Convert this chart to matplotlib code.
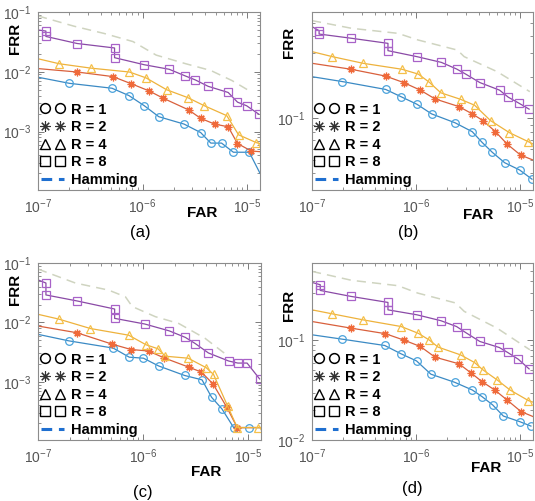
import numpy as np
import matplotlib
matplotlib.use('agg')
import matplotlib.pyplot as plt
from matplotlib.lines import Line2D
from matplotlib.legend_handler import HandlerLine2D

plt.rcParams['font.family'] = ['Liberation Sans', 'DejaVu Sans']
plt.rcParams['mathtext.default'] = 'regular'

# ---- panel (a) ----
a_r1_far = [1e-7, 2.0e-7, 5.1e-7, 7.4e-7, 1.04e-6, 1.43e-6, 2.5e-6, 3.6e-6, 4.5e-6, 5.7e-6, 7.4e-6, 1.05e-5, 1.33e-5]
a_r1_frr = [8.1e-3, 6.4e-3, 5.3e-3, 4.0e-3, 2.7e-3, 1.77e-3, 1.33e-3, 9.6e-4, 6.4e-4, 6.4e-4, 4.5e-4, 4.5e-4, 2.0e-4]
a_r2_far = [1e-7, 2.37e-7, 5.2e-7, 7.8e-7, 1.15e-6, 1.58e-6, 2.76e-6, 3.6e-6, 4.9e-6, 6.6e-6, 8.1e-6, 1.1e-5, 1.33e-5]
a_r2_frr = [1.13e-2, 9.9e-3, 8.3e-3, 6.3e-3, 4.8e-3, 3.6e-3, 2.3e-3, 1.66e-3, 1.33e-3, 1.2e-3, 6.3e-4, 4.7e-4, 4.6e-4]
a_r4_far = [1e-7, 1.6e-7, 3.2e-7, 7.5e-7, 1.08e-6, 1.7e-6, 2.7e-6, 3.9e-6, 6.4e-6, 8.3e-6, 1.23e-5, 1.33e-5]
a_r4_frr = [1.65e-2, 1.36e-2, 1.15e-2, 9.9e-3, 7.9e-3, 5.0e-3, 3.7e-3, 2.7e-3, 1.84e-3, 8.8e-4, 6.5e-4, 6.3e-4]
a_r8_far = [1e-7, 1.19e-7, 1.19e-7, 2.37e-7, 5.4e-7, 5.4e-7, 1.04e-6, 1.8e-6, 2.57e-6, 3.2e-6, 4.25e-6, 6.6e-6, 8.1e-6, 9.9e-6, 1.29e-5]
a_r8_frr = [5.0e-2, 4.8e-2, 3.9e-2, 2.97e-2, 2.5e-2, 1.72e-2, 1.31e-2, 1.1e-2, 8.5e-3, 7.3e-3, 5.7e-3, 4.5e-3, 3.1e-3, 2.7e-3, 1.96e-3]
a_ham_far = [1e-7, 2.2e-7, 4.3e-7, 8.1e-7, 1.35e-6, 2.6e-6, 4.5e-6, 7.2e-6, 1.05e-5]
a_ham_frr = [8.6e-2, 5.8e-2, 4.37e-2, 3.2e-2, 1.9e-2, 1.36e-2, 1.05e-2, 7.1e-3, 4.8e-3]

# ---- panel (b) ----
b_r1_far = [1e-7, 1.96e-7, 5.1e-7, 7.2e-7, 1.02e-6, 1.41e-6, 2.37e-6, 3.47e-6, 4.3e-6, 5.4e-6, 7.1e-6, 9.9e-6, 1.3e-5]
b_r1_frr = [0.202, 0.186, 0.163, 0.144, 0.127, 0.108, 0.093, 0.080, 0.067, 0.0566, 0.0475, 0.042, 0.036]
b_r2_far = [1e-7, 2.37e-7, 5.1e-7, 7.6e-7, 1.1e-6, 1.52e-6, 2.59e-6, 3.47e-6, 4.4e-6, 5.8e-6, 7.5e-6, 1.01e-5, 1.33e-5]
b_r2_frr = [0.253, 0.229, 0.204, 0.183, 0.161, 0.139, 0.122, 0.108, 0.0964, 0.080, 0.065, 0.054, 0.0497]
b_r4_far = [1e-7, 1.57e-7, 3.1e-7, 7.3e-7, 1.05e-6, 1.34e-6, 1.73e-6, 2.68e-6, 3.65e-6, 5.2e-6, 7.9e-6, 1.2e-5, 1.33e-5]
b_r4_frr = [0.308, 0.283, 0.253, 0.229, 0.211, 0.184, 0.154, 0.138, 0.125, 0.0964, 0.0787, 0.0676, 0.065]
b_r8_far = [1e-7, 1.17e-7, 1.17e-7, 2.37e-7, 5.37e-7, 5.37e-7, 1.02e-6, 1.75e-6, 2.45e-6, 3.0e-6, 4.1e-6, 6.35e-6, 7.7e-6, 9.8e-6, 1.22e-5]
b_r8_frr = [0.469, 0.438, 0.414, 0.386, 0.354, 0.313, 0.283, 0.257, 0.230, 0.211, 0.183, 0.161, 0.143, 0.129, 0.117]
b_ham_far = [1e-7, 2.4e-7, 6.7e-7, 1.04e-6, 2.5e-6, 2.9e-6, 6.0e-6, 1.24e-5]
b_ham_frr = [0.519, 0.456, 0.419, 0.375, 0.316, 0.283, 0.22, 0.157]

# ---- panel (c) ----
c_r1_far = [1e-7, 1.96e-7, 5.2e-7, 7.4e-7, 1.01e-6, 1.41e-6, 2.49e-6, 3.65e-6, 4.5e-6, 5.65e-6, 7.3e-6, 1.03e-5, 1.33e-5]
c_r1_frr = [6.3e-3, 4.9e-3, 3.7e-3, 2.6e-3, 2.5e-3, 1.85e-3, 1.28e-3, 1.08e-3, 5.5e-4, 3.5e-4, 1.7e-4, 1.7e-4, 1.7e-4]
c_r2_far = [1e-7, 2.35e-7, 5.1e-7, 7.7e-7, 1.13e-6, 1.57e-6, 2.72e-6, 3.6e-6, 4.65e-6, 6.3e-6, 7.9e-6, 1.33e-5]
c_r2_frr = [8.7e-3, 6.7e-3, 4.3e-3, 3.5e-3, 3.3e-3, 2.55e-3, 1.77e-3, 1.46e-3, 9.2e-4, 3.7e-4, 1.7e-4, 1.7e-4]
c_r4_far = [1e-7, 1.57e-7, 3.15e-7, 7.3e-7, 1.07e-6, 1.39e-6, 1.63e-6, 2.69e-6, 4.0e-6, 4.7e-6, 6.4e-6, 7.9e-6, 1.25e-5, 1.33e-5]
c_r4_frr = [1.37e-2, 1.14e-2, 7.9e-3, 6.1e-3, 4.2e-3, 3.6e-3, 2.7e-3, 2.5e-3, 1.73e-3, 1.33e-3, 3.9e-4, 1.7e-4, 1.7e-4, 1.7e-4]
c_r8_far = [1e-7, 1.19e-7, 1.19e-7, 2.35e-7, 5.37e-7, 5.37e-7, 1.04e-6, 1.78e-6, 2.53e-6, 3.15e-6, 4.2e-6, 6.55e-6, 8.0e-6, 9.8e-6, 1.29e-5]
c_r8_frr = [5.2e-2, 4.6e-2, 2.9e-2, 2.3e-2, 1.68e-2, 1.17e-2, 9.4e-3, 7.2e-3, 5.6e-3, 4.4e-3, 3.06e-3, 2.24e-3, 2.07e-3, 2.07e-3, 1.12e-3]
c_ham_far = [1e-7, 2.27e-7, 4.7e-7, 6.8e-7, 7.9e-7, 1.31e-6, 2.19e-6, 3.9e-6, 6.5e-6]
c_ham_frr = [7.9e-2, 4.6e-2, 3.5e-2, 2.7e-2, 1.85e-2, 1.25e-2, 9.6e-3, 5.4e-3, 2.7e-3]

# ---- panel (d) ----
d_r1_far = [1e-7, 1.96e-7, 5.0e-7, 7.2e-7, 1.01e-6, 1.39e-6, 2.35e-6, 3.47e-6, 4.3e-6, 5.45e-6, 6.9e-6, 9.9e-6, 1.27e-5]
d_r1_frr = [0.114, 0.103, 0.089, 0.0733, 0.0623, 0.0458, 0.038, 0.0318, 0.0273, 0.0225, 0.0174, 0.0153, 0.0138]
d_r2_far = [1e-7, 2.37e-7, 5.07e-7, 7.6e-7, 1.1e-6, 1.52e-6, 2.59e-6, 3.4e-6, 4.3e-6, 5.7e-6, 7.5e-6, 1.02e-5, 1.33e-5]
d_r2_frr = [0.155, 0.133, 0.117, 0.101, 0.087, 0.068, 0.0582, 0.0469, 0.0386, 0.0318, 0.0252, 0.0193, 0.0172]
d_r4_far = [1e-7, 1.57e-7, 3.1e-7, 7.2e-7, 1.05e-6, 1.34e-6, 1.63e-6, 2.68e-6, 3.65e-6, 4.4e-6, 6.0e-6, 8.0e-6, 1.2e-5, 1.33e-5]
d_r4_frr = [0.203, 0.185, 0.161, 0.138, 0.118, 0.101, 0.0857, 0.0716, 0.06, 0.0506, 0.0402, 0.0318, 0.0249, 0.024]
d_r8_far = [1e-7, 1.2e-7, 1.2e-7, 2.37e-7, 5.37e-7, 5.37e-7, 1.02e-6, 1.73e-6, 2.45e-6, 3.0e-6, 4.1e-6, 6.3e-6, 7.6e-6, 9.6e-6, 1.22e-5]
d_r8_frr = [0.383, 0.363, 0.318, 0.277, 0.241, 0.203, 0.181, 0.158, 0.138, 0.120, 0.0977, 0.085, 0.0757, 0.0648, 0.0518]
d_ham_far = [1e-7, 2.4e-7, 6.7e-7, 1.04e-6, 2.4e-6, 2.9e-6, 6.0e-6, 1.24e-5]
d_ham_frr = [0.494, 0.402, 0.355, 0.299, 0.238, 0.196, 0.133, 0.0806]

legend_labels = ['R = 1', 'R = 2', 'R = 4', 'R = 8', 'Hamming']
captions = ['(a)', '(b)', '(c)', '(d)']

# line colour, marker colour, marker
styles = {
    'r1': ('#3b8ac4', '#4ba3dc', 'o'),
    'r2': ('#d9603c', '#f06a3a', (8, 2, 0)),
    'r4': ('#eeb23c', '#f5c04a', '^'),
    'r8': ('#8a4aa6', '#a862c8', 's'),
}
XMIN, XMAX = 1e-7, 1.33e-5

panels = [
    dict(series={'r1': (a_r1_far, a_r1_frr), 'r2': (a_r2_far, a_r2_frr), 'r4': (a_r4_far, a_r4_frr),
                 'r8': (a_r8_far, a_r8_frr)}, ham=(a_ham_far, a_ham_frr),
         ylim=(1.05e-4, 1e-1), yticks=[1e-3, 1e-2, 1e-1],
         rect=[38, 12, 260, 190], frr_y=0.85, far_xy=(0.74, -0.13), cap=(140, 232)),
    dict(series={'r1': (b_r1_far, b_r1_frr), 'r2': (b_r2_far, b_r2_frr), 'r4': (b_r4_far, b_r4_frr),
                 'r8': (b_r8_far, b_r8_frr)}, ham=(b_ham_far, b_ham_frr),
         ylim=(0.03, 0.6), yticks=[1e-1],
         rect=[312, 12, 533, 190], frr_y=0.83, far_xy=(0.75, -0.14), cap=(408, 232)),
    dict(series={'r1': (c_r1_far, c_r1_frr), 'r2': (c_r2_far, c_r2_frr), 'r4': (c_r4_far, c_r4_frr),
                 'r8': (c_r8_far, c_r8_frr)}, ham=(c_ham_far, c_ham_frr),
         ylim=(1.05e-4, 1e-1), yticks=[1e-3, 1e-2, 1e-1],
         rect=[38, 263, 261, 440], frr_y=0.85, far_xy=(0.755, -0.18), cap=(143, 492)),
    dict(series={'r1': (d_r1_far, d_r1_frr), 'r2': (d_r2_far, d_r2_frr), 'r4': (d_r4_far, d_r4_frr),
                 'r8': (d_r8_far, d_r8_frr)}, ham=(d_ham_far, d_ham_frr),
         ylim=(0.01, 0.6), yticks=[1e-2, 1e-1],
         rect=[312, 263, 533, 440], frr_y=0.76, far_xy=(0.79, -0.16), cap=(412, 488)),
]

W, H = 535, 501
fig = plt.figure(figsize=(W / 100, H / 100), dpi=100)

for i, p in enumerate(panels):
    x0, y0, x1, y1 = p['rect']
    ax = fig.add_axes([x0 / W, 1 - y1 / H, (x1 - x0) / W, (y1 - y0) / H])
    ax.set_xscale('log')
    ax.set_yscale('log')

    hf, hr = p['ham']
    ax.plot(hf, hr, color='#cfd4c0', lw=1.1, ls=(0, (6, 4)))

    for key in ['r1', 'r2', 'r4', 'r8']:
        far, frr = p['series'][key]
        lc, mc, mk = styles[key]
        far = np.array(far)
        mask = list((far > 1.02 * XMIN) & (far < 1.32e-5))
        ax.plot(far, frr, color=lc, lw=0.9, marker=mk, ms=5.5, mfc='none', mec=mc, mew=0.9,
                markevery=mask)

    ax.set_xlim(XMIN, XMAX)
    ax.set_ylim(*p['ylim'])
    ax.set_xticks([1e-7, 1e-6, 1e-5])
    ax.set_yticks(p['yticks'])
    ax.tick_params(which='both', direction='in', top=True, right=True, colors='#666666',
                   labelsize=10, labelcolor='#555555')
    ax.tick_params(axis='y', pad=5)
    ax.tick_params(axis='x', pad=5)
    ax.tick_params(which='major', length=4, width=0.6)
    ax.tick_params(which='minor', length=2, width=0.5)
    for s in ax.spines.values():
        s.set_color('#8c8c8c')
        s.set_linewidth(0.8)

    ax.text(-0.105, p['frr_y'], 'FRR', transform=ax.transAxes, rotation=90, fontsize=11,
            fontweight='bold', ha='center', va='center')
    ax.text(p['far_xy'][0], p['far_xy'][1], 'FAR', transform=ax.transAxes, fontsize=11,
            fontweight='bold', ha='center', va='center')
    fig.text(p['cap'][0] / W, 1 - p['cap'][1] / H, captions[i], fontsize=12,
             ha='center', va='center')

    ham_handle = Line2D([], [], ls=(0, (3.5, 2.2)), color='#1f6fd0', lw=2.2)
    handles = [
        Line2D([], [], ls='none', marker='o', mfc='none', mec='k', ms=7, mew=1.1),
        Line2D([], [], ls='none', marker=(8, 2, 0), mec='#333333', ms=7.5, mew=0.8),
        Line2D([], [], ls='none', marker='^', mfc='none', mec='k', ms=7, mew=1.0),
        Line2D([], [], ls='none', marker='s', mfc='none', mec='k', ms=7, mew=1.0),
        ham_handle,
    ]
    ax.legend(handles, legend_labels, loc='lower left', bbox_to_anchor=(0.0, 0.0),
              frameon=False, numpoints=2, handlelength=1.6, handletextpad=0.45,
              labelspacing=0.25, borderaxespad=0.05, borderpad=0.15,
              prop={'weight': 'bold', 'size': 10.5},
              handler_map={ham_handle: HandlerLine2D(numpoints=2, marker_pad=0)})

fig.savefig('out.png', dpi=100)
